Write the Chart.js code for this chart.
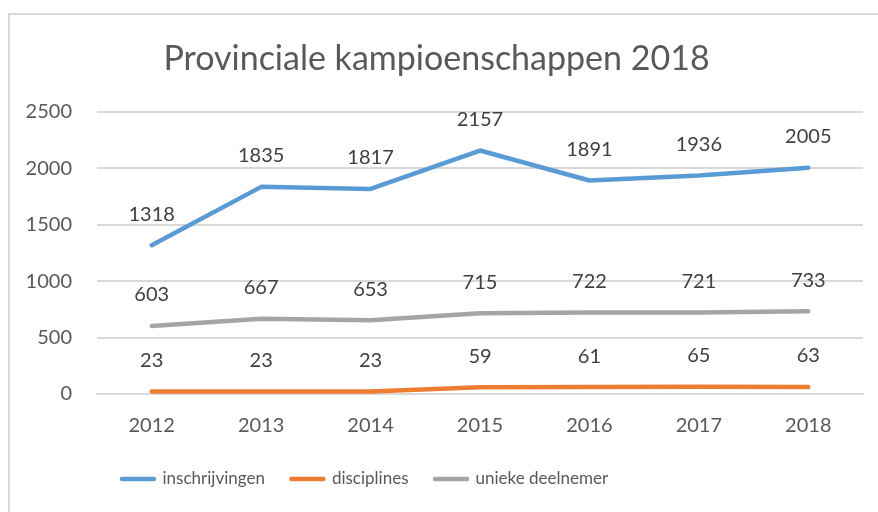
<!DOCTYPE html>
<html>
<head>
<meta charset="utf-8">
<script src="https://cdn.jsdelivr.net/npm/chart.js@4/dist/chart.umd.min.js"></script>
<style>
  html, body { margin: 0; padding: 0; background: #fff; }
  #wrap { position: relative; width: 878px; height: 512px; overflow: hidden; }
  #frame { position: absolute; left: 8px; top: 13px; width: 900px; height: 540px; border: 2px solid #D9D9D9; box-sizing: border-box; }
  #myChart { position: absolute; left: 0; top: 0; }
</style>
</head>
<body>
<div id="wrap">
  <div id="frame"></div>
  <canvas id="myChart" width="878" height="512"></canvas>
</div>
<script>
// values
const years = ['2012', '2013', '2014', '2015', '2016', '2017', '2018'];
const inschrijvingen = [1318, 1835, 1817, 2157, 1891, 1936, 2005];
const disciplines = [23, 23, 23, 59, 61, 65, 63];
const uniekeDeelnemer = [603, 667, 653, 715, 722, 721, 733];

const FONT = 'Lato, "Open Sans", sans-serif';

// labels above every point, like excel data labels
const pointLabels = {
    id: 'pointLabels',
    afterDatasetsDraw(chart)
    {
        const ctx = chart.ctx;
        ctx.save();
        ctx.font = '20px ' + FONT;
        ctx.fillStyle = '#404040';
        ctx.textAlign = 'center';
        ctx.textBaseline = 'middle';
        chart.data.datasets.forEach(function(ds, i)
        {
            const meta = chart.getDatasetMeta(i);
            meta.data.forEach(function(pt, j)
            {
                ctx.fillText(ds.data[j], pt.x, pt.y - 31);
            });
        });
        ctx.restore();
    }
};

// excel puts the legend a bit left of center, move the box over
const legendShift = {
    id: 'legendShift',
    afterLayout(chart)
    {
        chart.legend.left += 85.5;
        chart.legend.right += 85.5;
    }
};

var ctx = document.getElementById('myChart');
var myChart = new Chart(ctx, {
    type: 'line',
    data: {
        labels: years,
        datasets: [
            {
                label: 'inschrijvingen',
                data: inschrijvingen,
                borderColor: '#5B9BD5',
                backgroundColor: '#5B9BD5'
            },
            {
                label: 'disciplines',
                data: disciplines,
                borderColor: '#ED7D31',
                backgroundColor: '#ED7D31'
            },
            {
                label: 'unieke deelnemer',
                data: uniekeDeelnemer,
                borderColor: '#A5A5A5',
                backgroundColor: '#A5A5A5'
            }
        ]
    },
    options: {
        responsive: false,
        animation: false,
        elements: {
            line: { borderWidth: 4.5, borderCapStyle: 'round', borderJoinStyle: 'round', tension: 0 },
            point: { radius: 0, hoverRadius: 0 }
        },
        layout: {
            padding: { left: 10, right: 15, top: 0, bottom: 14.5 }
        },
        plugins: {
            title: {
                display: true,
                text: 'Provinciale kampioenschappen 2018',
                color: '#595959',
                font: { family: FONT, size: 34, weight: 'normal', lineHeight: 1.2 },
                padding: { top: 39, bottom: 32 }
            },
            legend: {
                position: 'bottom',
                align: 'start',
                labels: {
                    color: '#595959',
                    font: { family: FONT, size: 17 },
                    usePointStyle: true,
                    pointStyleWidth: 32,
                    boxHeight: 17,
                    padding: 26.5,
                    generateLabels: function(chart)
                    {
                        return chart.data.datasets.map(function(ds, i)
                        {
                            return {
                                text: ds.label,
                                datasetIndex: i,
                                fillStyle: ds.borderColor,
                                strokeStyle: ds.borderColor,
                                fontColor: '#595959',
                                lineWidth: 4.5,
                                lineCap: 'round',
                                pointStyle: 'line',
                                hidden: false
                            };
                        });
                    }
                }
            },
            tooltip: { enabled: false }
        },
        scales: {
            x: {
                offset: true,
                grid: { display: false, drawTicks: false },
                border: { color: '#D9D9D9', width: 2 },
                ticks: { color: '#595959', font: { family: FONT, size: 20 }, padding: 20 },
                afterFit: function(scale) { scale.height = 50; }
            },
            y: {
                min: 0,
                max: 2500,
                grid: { color: '#D9D9D9', lineWidth: 2, drawTicks: false },
                border: { display: false },
                ticks: {
                    stepSize: 500,
                    color: '#595959',
                    font: { family: FONT, size: 20 },
                    padding: 25,
                    callback: function(value) { return String(value); }
                },
                afterFit: function(scale) { scale.width = 87; }
            }
        }
    },
    plugins: [pointLabels, legendShift]
});
</script>
</body>
</html>
